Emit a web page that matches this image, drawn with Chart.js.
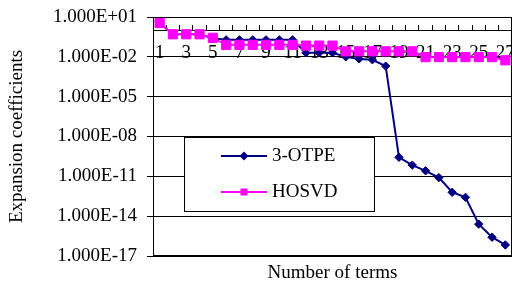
<!DOCTYPE html>
<html>
<head>
<meta charset="utf-8">
<script src="https://cdn.jsdelivr.net/npm/chart.js@4/dist/chart.umd.min.js"></script>
<style>
  html, body { margin: 0; padding: 0; background: #fff; }
</style>
</head>
<body>
<canvas id="chart" width="512" height="283"></canvas>
<script>
// ── data ──
const terms = [1, 2, 3, 4, 5, 6, 7, 8, 9, 10, 11, 12, 13, 14, 15, 16, 17, 18, 19, 20, 21, 22, 23, 24, 25, 26, 27];
const otpe = [3.5, 0.5, 0.5, 0.5, 0.25, 0.19, 0.19, 0.19, 0.19, 0.19, 0.19, 0.02, 0.02, 0.02,
    0.01, 0.007, 0.006, 0.002, 2.7e-10, 7e-11, 2.6e-11, 8e-12, 6.3e-13, 2.6e-13, 2.5e-15, 2.6e-16, 6.8e-17];
const hosvd = [3.5, 0.5, 0.5, 0.5, 0.27, 0.08, 0.08, 0.08, 0.08, 0.08, 0.08, 0.07, 0.07, 0.07,
    0.026, 0.026, 0.026, 0.026, 0.026, 0.026, 0.0095, 0.0095, 0.0095, 0.0095, 0.0095, 0.0095, 0.0055];
const yTicks = [1e1, 1e-2, 1e-5, 1e-8, 1e-11, 1e-14, 1e-17];

const SERIF = "'Liberation Serif', 'Times New Roman', serif";
const FONT = { family: SERIF, size: 19, weight: 'normal' };

// 1.000E+01 style labels
function sciLabel(v) {
    const [m, e] = Number(v).toExponential(3).split('e');
    const n = parseInt(e, 10);
    return m + 'E' + (n < 0 ? '-' : '+') + String(Math.abs(n)).padStart(2, '0');
}

// ── frame round the plot area ──
const plotFrame = {
    id: 'plotFrame',
    beforeDatasetsDraw(chart) {
        const { ctx, chartArea: a } = chart;
        ctx.save();
        ctx.strokeStyle = '#000';
        ctx.lineWidth = 1;
        ctx.strokeRect(Math.round(a.left) + 0.5, Math.round(a.top) + 0.5,
            Math.round(a.right - a.left) - 1, Math.round(a.bottom - a.top) - 1);
        ctx.restore();
    }
};

// ── boxed legend inside the plot ──
function drawMarker(ctx, style, x, y, r) {
    ctx.beginPath();
    if (style === 'rectRot') {
        ctx.moveTo(x, y - r);
        ctx.lineTo(x + r, y);
        ctx.lineTo(x, y + r);
        ctx.lineTo(x - r, y);
        ctx.closePath();
    } else {
        ctx.rect(x - r, y - r, r * 2, r * 2);
    }
    ctx.fill();
}

const boxLegend = {
    id: 'boxLegend',
    afterDatasetsDraw(chart) {
        const { ctx, chartArea } = chart;
        const x = Math.round(chartArea.left) + 31;
        const y = Math.round(chartArea.top) + 120;
        const w = 190, h = 74;
        ctx.save();
        ctx.fillStyle = '#fff';
        ctx.fillRect(x, y, w, h);
        ctx.strokeStyle = '#000';
        ctx.lineWidth = 1;
        ctx.strokeRect(x + 0.5, y + 0.5, w, h);
        chart.data.datasets.forEach((ds, i) => {
            const cy = y + 19 + i * 36;
            const lx = x + 37;
            ctx.strokeStyle = ds.borderColor;
            ctx.lineWidth = 2;
            ctx.beginPath();
            ctx.moveTo(lx, cy);
            ctx.lineTo(lx + 46, cy);
            ctx.stroke();
            ctx.fillStyle = ds.borderColor;
            drawMarker(ctx, ds.pointStyle, lx + 23, cy, ds.pointStyle === 'rectRot' ? 4.5 : 3.5);
            ctx.fillStyle = '#000';
            ctx.font = '19px ' + SERIF;
            ctx.textBaseline = 'middle';
            ctx.textAlign = 'left';
            ctx.fillText(ds.label, x + 88, cy);
        });
        ctx.restore();
    }
};

new Chart(document.getElementById('chart'), {
    type: 'line',
    data: {
        labels: terms,
        datasets: [{
            label: '3-OTPE',
            data: otpe,
            borderColor: '#000080',
            backgroundColor: '#000080',
            borderWidth: 2,
            pointStyle: 'rectRot',
            pointRadius: 4.2,
            pointBorderWidth: 1,
            tension: 0,
            order: 2,
        }, {
            label: 'HOSVD',
            data: hosvd,
            borderColor: '#ff00ff',
            backgroundColor: '#ff00ff',
            borderWidth: 2,
            pointStyle: 'rect',
            pointRadius: 6.5,
            pointBorderWidth: 1,
            tension: 0,
            order: 1,
        }],
    },
    options: {
        responsive: false,
        animation: false,
        clip: false,
        layout: { autoPadding: false, padding: { top: 17, right: 0, left: 0, bottom: 0 } },
        plugins: {
            legend: { display: false },
            tooltip: { enabled: false },
            title: {
                display: true,
                position: 'bottom',
                fullSize: false,
                text: 'Number of terms',
                color: '#000',
                font: { family: SERIF, size: 19, weight: 'normal', lineHeight: 1 },
                padding: { top: 7.5, bottom: 0.5 },
            },
        },
        scales: {
            x: {
                type: 'category',
                position: { y: 1 },
                offset: true,
                grid: { offset: true, drawOnChartArea: false, tickLength: -6, color: '#000' },
                border: { color: '#000', width: 1 },
                ticks: {
                    autoSkip: false,
                    maxRotation: 0,
                    minRotation: 0,
                    padding: 17,
                    color: '#000',
                    font: FONT,
                    callback: (v, i) => (terms[i] % 2 === 1 ? String(terms[i]) : ''),
                },
                afterFit: s => { s.height = 0; s.paddingLeft = 0; s.paddingRight = 0; },
            },
            y: {
                type: 'logarithmic',
                min: 1e-17,
                max: 1e1,
                afterBuildTicks: s => { s.ticks = yTicks.map(v => ({ value: v })); },
                grid: { color: '#000', tickLength: 6 },
                border: { color: '#000' },
                ticks: { padding: 10, color: '#000', font: FONT, callback: v => sciLabel(v) },
                title: {
                    display: true,
                    text: 'Expansion coefficients',
                    color: '#000',
                    font: FONT,
                    padding: { top: 6, bottom: 0 },
                },
                afterFit: s => { s.width = 153; s.paddingTop = 0; s.paddingBottom = 0; },
            },
        },
    },
    plugins: [plotFrame, boxLegend],
});
</script>
</body>
</html>
